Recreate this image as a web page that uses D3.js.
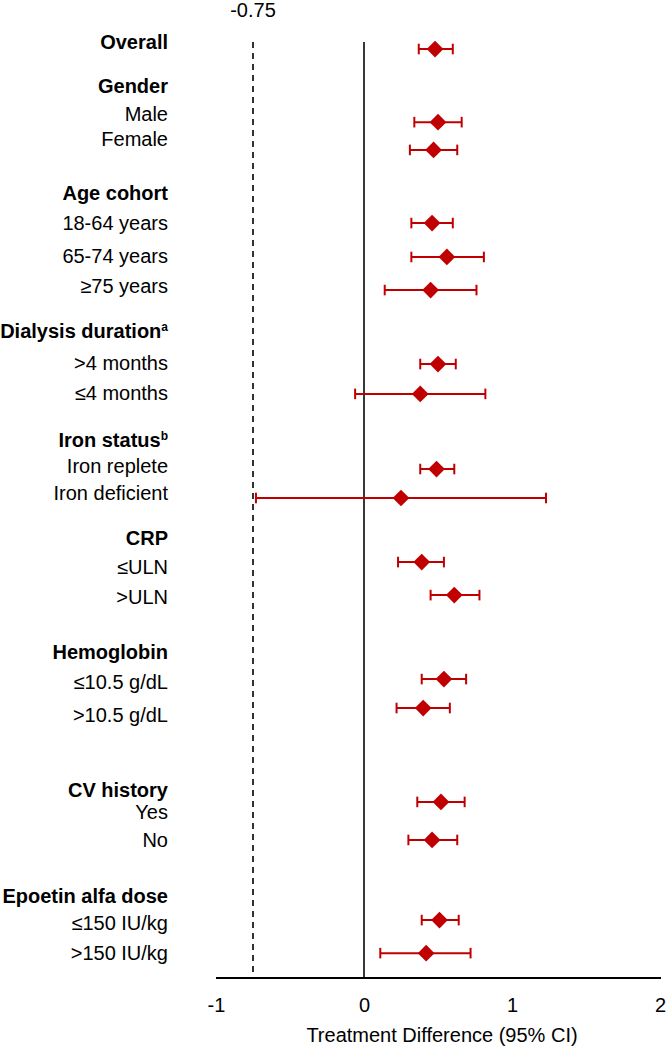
<!DOCTYPE html>
<html>
<head>
<meta charset="utf-8">
<script src="https://cdn.jsdelivr.net/npm/d3@7"></script>
<style>
  html, body { margin: 0; padding: 0; background: #fff; }
  svg { display: block; font-family: "Liberation Sans", Arial, sans-serif; }
</style>
</head>
<body>
<svg id="chart" width="666" height="1048"></svg>
<script>
// ---------- data ----------
const headings = ["Overall", "Gender", "Age cohort", "Dialysis duration", "Iron status", "CRP", "Hemoglobin", "CV history", "Epoetin alfa dose"];
const headingSup = ["", "", "", "a", "b", "", "", "", ""];

const subgroups = ["Overall", "Male", "Female", "18-64 years", "65-74 years", "≥75 years",
  ">4 months", "≤4 months", "Iron replete", "Iron deficient", "≤ULN", ">ULN",
  "≤10.5 g/dL", ">10.5 g/dL", "Yes", "No", "≤150 IU/kg", ">150 IU/kg"];
const estimate = [0.48, 0.50, 0.47, 0.46, 0.56, 0.45, 0.50, 0.38, 0.49, 0.25, 0.39, 0.61, 0.54, 0.40, 0.52, 0.46, 0.51, 0.42];
const lower    = [0.37, 0.34, 0.31, 0.32, 0.32, 0.14, 0.38, -0.06, 0.38, -0.73, 0.23, 0.45, 0.39, 0.22, 0.36, 0.30, 0.39, 0.11];
const upper    = [0.60, 0.66, 0.63, 0.60, 0.81, 0.76, 0.62, 0.82, 0.61, 1.23, 0.54, 0.78, 0.69, 0.58, 0.68, 0.63, 0.64, 0.72];

const xTicks = [-1, 0, 1, 2];
const marginValue = -0.75;
const xTitle = "Treatment Difference (95% CI)";

// ---------- layout (row units, hand-made spacing of the original) ----------
const headingRow = [0, 1.5, 5.16, 9.88, 13.61, 16.96, 20.85, 25.57, 29.2];
const markerRow  = [0.24, 2.74, 3.69, 6.19, 7.35, 8.48, 11.01, 12.03, 14.6, 15.59, 17.78, 18.91, 21.78, 22.77, 25.98, 27.28, 30.02, 31.15];
const labelRow   = [null, 2.46, 3.32, 6.19, 7.32, 8.34, 10.97, 12.0, 14.5, 15.42, 17.95, 18.97, 21.88, 23.0, 26.32, 27.28, 30.12, 31.15];

const svg = d3.select("#chart");
const red = "#c00000";
const fs = 20;

const x = d3.scaleLinear().domain([-1, 2]).range([216, 660]);
const y = d3.scaleLinear().domain([0, 32]).range([42, 978]);
const labelX = 168;

// reference lines
svg.append("line")
  .attr("x1", x(marginValue)).attr("x2", x(marginValue))
  .attr("y1", y(0)).attr("y2", y(32))
  .attr("stroke", "#000").attr("stroke-width", 1.6)
  .attr("stroke-dasharray", "6,5");
svg.append("line")
  .attr("x1", x(0)).attr("x2", x(0))
  .attr("y1", y(0)).attr("y2", y(32))
  .attr("stroke", "#222").attr("stroke-width", 1.8);

svg.append("text")
  .attr("x", x(marginValue)).attr("y", 17)
  .attr("text-anchor", "middle")
  .attr("font-size", fs).attr("fill", "#000")
  .text(String(marginValue));

// axis
const axis = d3.axisBottom(x)
  .tickValues(xTicks)
  .tickFormat(d => String(d))
  .tickSize(0)
  .tickSizeOuter(0)
  .tickPadding(20);
const gAxis = svg.append("g").attr("transform", `translate(0,${y(32)})`).call(axis);
gAxis.select(".domain").attr("stroke", "#000").attr("stroke-width", 1.8)
  .attr("d", `M${x(-1)},0H${x(2) + 1}`);
gAxis.selectAll("text").attr("font-size", fs).attr("fill", "#000")
  .attr("font-family", "\"Liberation Sans\", Arial, sans-serif");

svg.append("text")
  .attr("x", (x(-1) + x(2)) / 2 + 4).attr("y", 1042)
  .attr("text-anchor", "middle")
  .attr("font-size", fs).attr("fill", "#000")
  .text(xTitle);

// headings
const hText = svg.selectAll("text.heading").data(headings).enter().append("text")
  .attr("class", "heading")
  .attr("x", labelX)
  .attr("y", (d, i) => y(headingRow[i]))
  .attr("dy", "0.35em")
  .attr("text-anchor", "end")
  .attr("font-size", fs).attr("font-weight", "bold").attr("fill", "#000");
hText.append("tspan").text(d => d);
hText.filter((d, i) => headingSup[i] !== "")
  .append("tspan")
  .attr("font-size", 12)
  .attr("dy", -7)
  .text((d) => headingSup[headings.indexOf(d)]);

// subgroup labels (skip Overall, which is a heading)
svg.selectAll("text.sub").data(subgroups.slice(1)).enter().append("text")
  .attr("class", "sub")
  .attr("x", labelX)
  .attr("y", (d, i) => y(labelRow[i + 1]))
  .attr("dy", "0.35em")
  .attr("text-anchor", "end")
  .attr("font-size", fs).attr("fill", "#000")
  .text(d => d);

// error bars and diamonds
const rows = subgroups.map((s, i) => ({ s, est: estimate[i], lo: lower[i], hi: upper[i], r: markerRow[i] }));
const g = svg.append("g");
const capH = 5.3;
g.selectAll("line.ci").data(rows).enter().append("line")
  .attr("x1", d => x(d.lo)).attr("x2", d => x(d.hi))
  .attr("y1", d => y(d.r)).attr("y2", d => y(d.r))
  .attr("stroke", red).attr("stroke-width", 2);
g.selectAll("line.capL").data(rows).enter().append("line")
  .attr("x1", d => x(d.lo)).attr("x2", d => x(d.lo))
  .attr("y1", d => y(d.r) - capH).attr("y2", d => y(d.r) + capH)
  .attr("stroke", red).attr("stroke-width", 2);
g.selectAll("line.capR").data(rows).enter().append("line")
  .attr("x1", d => x(d.hi)).attr("x2", d => x(d.hi))
  .attr("y1", d => y(d.r) - capH).attr("y2", d => y(d.r) + capH)
  .attr("stroke", red).attr("stroke-width", 2);
const diamond = d3.symbol().type(d3.symbolSquare).size(140);
g.selectAll("path.pt").data(rows).enter().append("path")
  .attr("d", diamond)
  .attr("transform", d => `translate(${x(d.est)},${y(d.r)}) rotate(45)`)
  .attr("fill", red);
</script>
</body>
</html>
